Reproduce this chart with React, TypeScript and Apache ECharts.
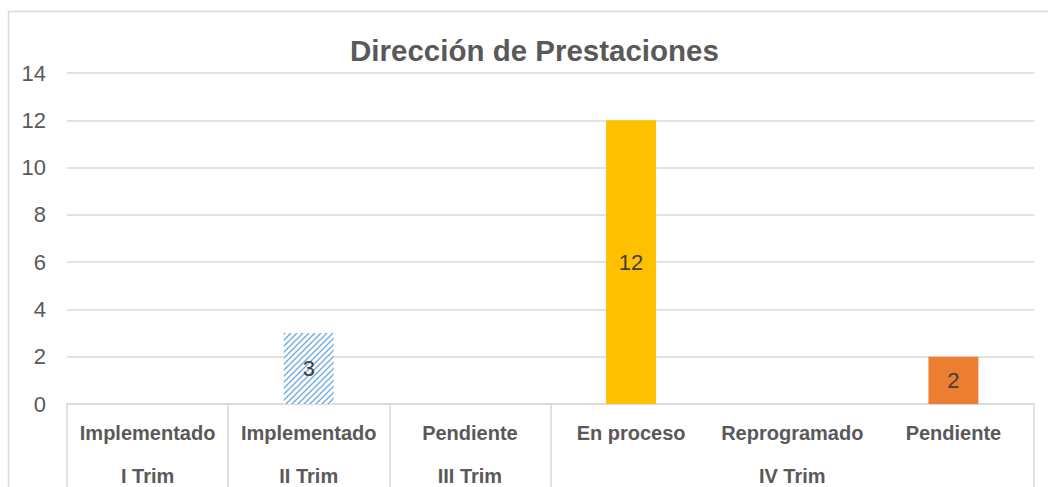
import React, { useEffect, useRef } from "react";
import * as echarts from "echarts";

const titleText = "Dirección de Prestaciones";
const categories = ["Implementado", "Implementado", "Pendiente", "En proceso", "Reprogramado", "Pendiente"];
const groupLabels = ["I Trim", "II Trim", "III Trim", "", "IV Trim", ""];
const values: (number | null)[] = [null, 3, null, 12, null, 2];
const barColors = ["#5B9BD5", "hatch", "#A5A5A5", "#FFC000", "#4472C4", "#ED7D31"];
const yMin = 0;
const yMax = 14;
const yStep = 2;

function makeHatch(): any {
  const s = 6;
  const c = document.createElement("canvas");
  c.width = s;
  c.height = s;
  const ctx = c.getContext("2d")!;
  ctx.fillStyle = "#ffffff";
  ctx.fillRect(0, 0, s, s);
  ctx.strokeStyle = "#6FA8DC";
  ctx.lineWidth = 1.3;
  ctx.beginPath();
  ctx.moveTo(-1, s + 1);
  ctx.lineTo(s + 1, -1);
  ctx.moveTo(-1, 1);
  ctx.lineTo(1, -1);
  ctx.moveTo(s - 1, s + 1);
  ctx.lineTo(s + 1, s - 1);
  ctx.stroke();
  return { image: c, repeat: "repeat" };
}

export default function App() {
  const ref = useRef<HTMLDivElement>(null);
  useEffect(() => {
    if (!ref.current) return;
    const chart = echarts.init(ref.current, undefined, { renderer: "svg" });
    const hatch = makeHatch();
    const textColor = "#595959";
    const lineColor = "#D9D9D9";
    const font = "'Liberation Sans', Arial, sans-serif";
    chart.setOption({
      animation: false,
      backgroundColor: "#ffffff",
      title: {
        text: titleText,
        left: 345,
        top: 30,
        textStyle: { fontFamily: font, fontSize: 29.5, fontWeight: "bold", color: textColor },
      },
      graphic: [
        {
          type: "rect",
          shape: { x: 8.5, y: 11.5, width: 1100, height: 600 },
          style: { fill: "none", stroke: lineColor, lineWidth: 1.5 },
          silent: true,
        },
      ],
      grid: { left: 67, right: 14, top: 73, bottom: 83, containLabel: false },
      xAxis: [
        {
          type: "category",
          data: categories,
          position: "bottom",
          axisLine: { show: true, lineStyle: { color: lineColor, width: 1.5 } },
          axisTick: {
            show: true,
            length: 90,
            interval: (i: number) => i <= 3,
            lineStyle: { color: lineColor, width: 1.5 },
          },
          axisLabel: {
            interval: 0,
            margin: 19,
            fontFamily: font,
            fontSize: 20,
            fontWeight: "bold",
            color: textColor,
          },
        },
        {
          type: "category",
          data: groupLabels,
          position: "bottom",
          axisLine: { show: false },
          axisTick: { show: false },
          axisLabel: {
            interval: 0,
            margin: 62,
            fontFamily: font,
            fontSize: 20,
            fontWeight: "bold",
            color: textColor,
          },
        },
      ],
      yAxis: {
        type: "value",
        min: yMin,
        max: yMax,
        interval: yStep,
        axisLine: { show: false },
        axisTick: { show: false },
        splitLine: { lineStyle: { color: lineColor, width: 1.5 } },
        axisLabel: { margin: 21, fontFamily: font, fontSize: 22, color: textColor },
      },
      series: [
        {
          type: "bar",
          xAxisIndex: 0,
          barWidth: "31%",
          data: values.map((v, i) => ({
            value: v,
            itemStyle: { color: barColors[i] === "hatch" ? hatch : barColors[i] },
          })),
          label: {
            show: true,
            position: "inside",
            fontFamily: font,
            fontSize: 22,
            color: "#404040",
          },
        },
      ],
    });
    return () => chart.dispose();
  }, []);
  return (
    <div
      ref={ref}
      style={{ position: "fixed", left: 0, top: 0, width: 1048, height: 487 }}
    />
  );
}
